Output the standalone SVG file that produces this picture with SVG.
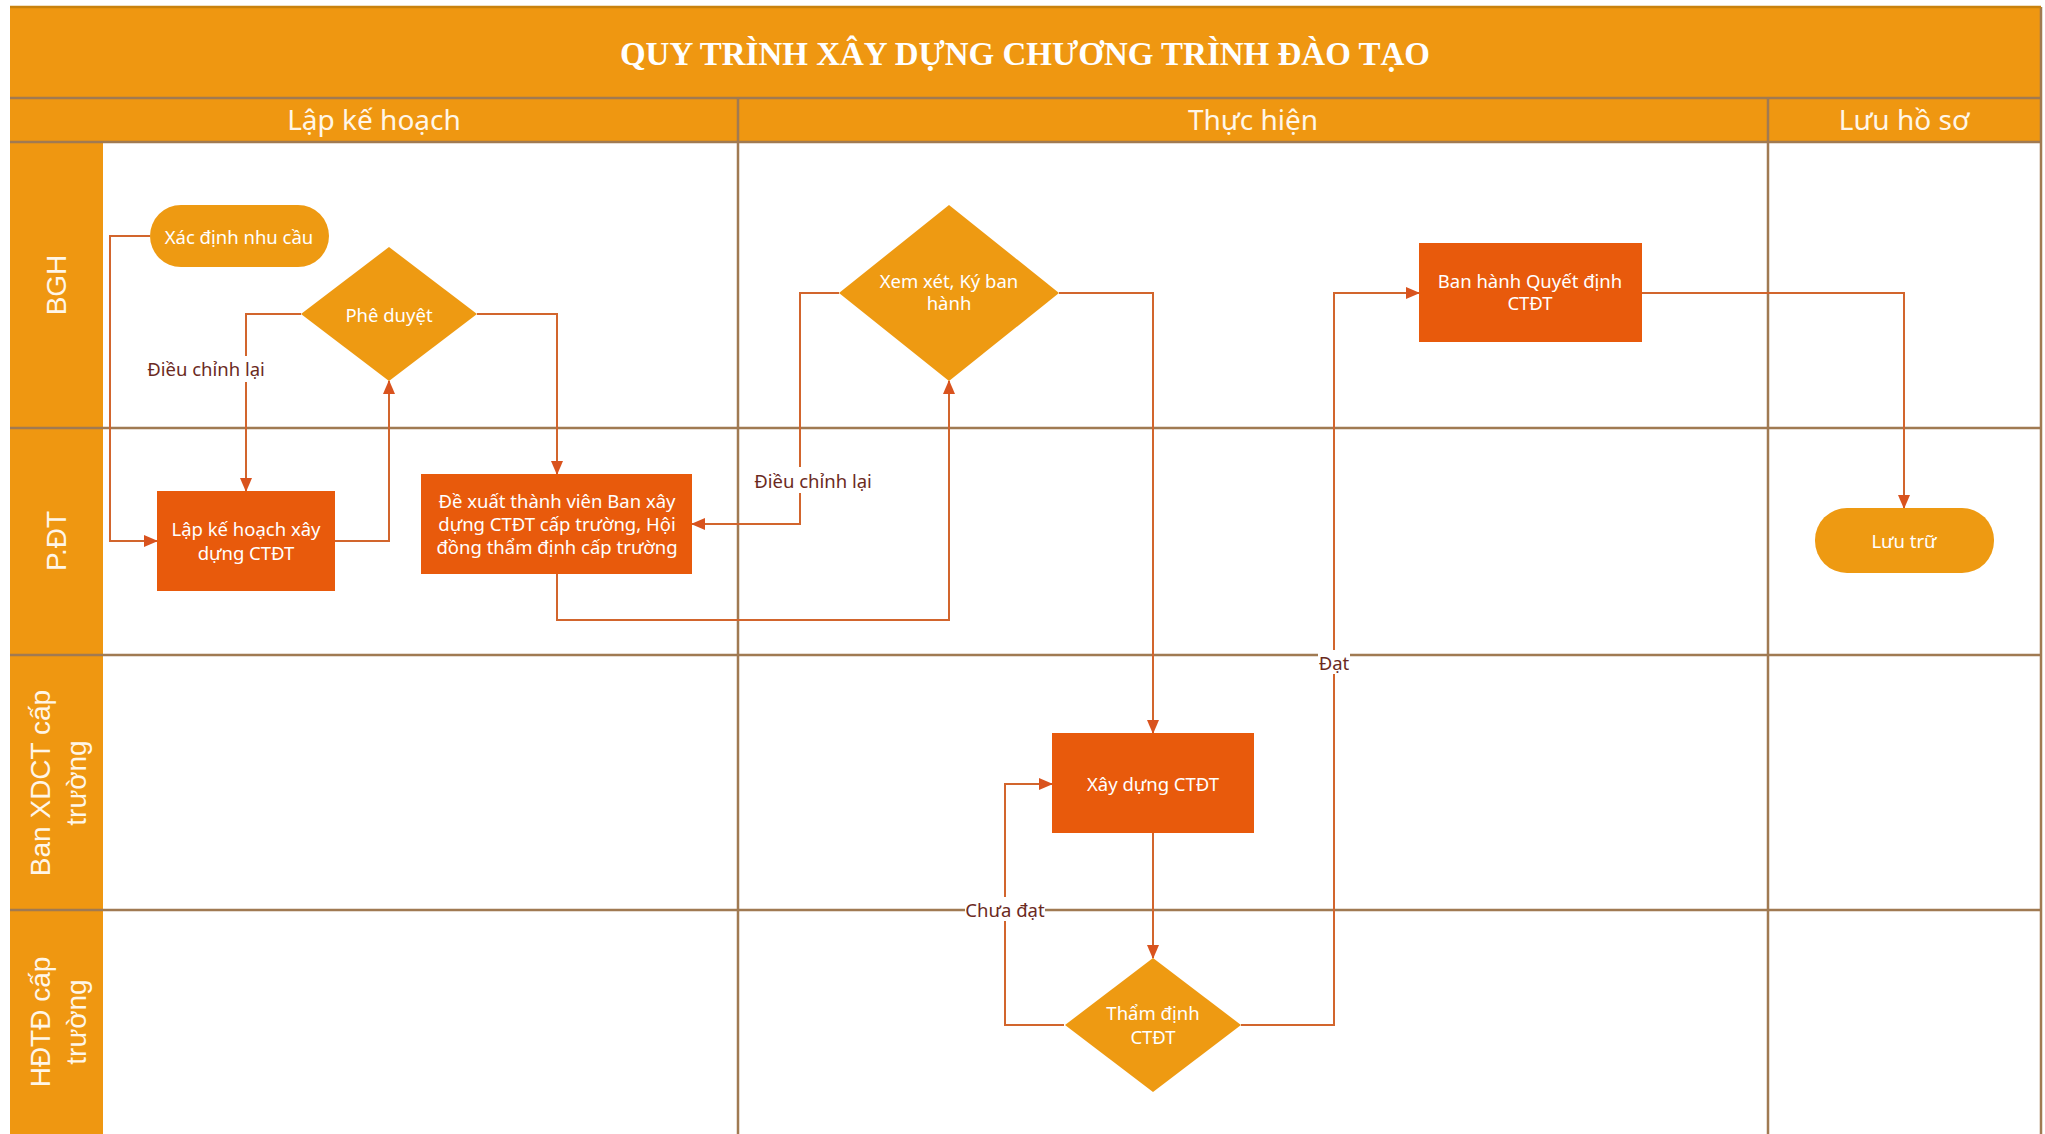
<svg xmlns="http://www.w3.org/2000/svg" width="2045" height="1134" viewBox="0 0 2045 1134">
<style>
.band{fill:#EF9711}
.grid{stroke:#A07A52;stroke-width:2.5;fill:none}
.title{font-family:"Liberation Serif",serif;font-weight:bold;font-size:33px;fill:#FFFFFF}
.phase{font-family:"Noto Sans","Open Sans",sans-serif;font-size:28px;fill:#FFF6E8}
.lane{font-family:"Liberation Sans",Arial,sans-serif;font-size:28px;fill:#FFF6E8}
.proc{fill:#E85A0C}
.dec{fill:#EE9A12}
.term{fill:#EE9A12}
.nt{font-family:"Noto Sans","Open Sans",sans-serif;font-size:18.5px;fill:#FFFFFF;text-anchor:middle;dominant-baseline:central}
.conn{stroke:#D2652D;stroke-width:2;fill:none}
.el{font-family:"Noto Sans","Open Sans",sans-serif;font-size:18.5px;fill:#6B2A1E;text-anchor:middle;dominant-baseline:central}
.lbg{fill:#FFFFFF}
</style>
<defs>
<marker id="arr" markerWidth="14" markerHeight="12" refX="13" refY="6" orient="auto" markerUnits="userSpaceOnUse">
<path d="M0,0 L14,6 L0,12 Z" fill="#D9531E"/>
</marker>
</defs>
<rect x="0" y="0" width="2045" height="1134" fill="#FFFFFF"/>
<g id="frame">
<rect class="band" x="10" y="7" width="2031" height="135"/>
<rect class="band" x="10" y="142" width="93" height="992"/>
<text class="title" x="1025" y="65" text-anchor="middle">QUY TRÌNH XÂY DỰNG CHƯƠNG TRÌNH ĐÀO TẠO</text>
<line class="grid" x1="10" y1="98" x2="2041" y2="98"/>
<line class="grid" x1="10" y1="142" x2="2041" y2="142"/>
<line class="grid" x1="10" y1="428" x2="2041" y2="428"/>
<line class="grid" x1="10" y1="655" x2="2041" y2="655"/>
<line class="grid" x1="10" y1="910" x2="2041" y2="910"/>
<line class="grid" x1="738" y1="98" x2="738" y2="1134"/>
<line class="grid" x1="1768" y1="98" x2="1768" y2="1134"/>
<line class="grid" x1="2041" y1="7" x2="2041" y2="1134"/>
<line class="grid" x1="10" y1="7" x2="2041" y2="7" style="stroke:#C9820E"/>
<text class="phase" x="374" y="119" text-anchor="middle" dominant-baseline="central">Lập kế hoạch</text>
<text class="phase" x="1253" y="119" text-anchor="middle" dominant-baseline="central">Thực hiện</text>
<text class="phase" x="1904" y="119" text-anchor="middle" dominant-baseline="central">Lưu hồ sơ</text>
<text class="lane" transform="translate(56,285) rotate(-90)" text-anchor="middle" dominant-baseline="central">BGH</text>
<text class="lane" transform="translate(56,541) rotate(-90)" text-anchor="middle" dominant-baseline="central">P.ĐT</text>
<text class="lane" transform="translate(40,783) rotate(-90)" text-anchor="middle" dominant-baseline="central">Ban XDCT cấp</text>
<text class="lane" transform="translate(76,783) rotate(-90)" text-anchor="middle" dominant-baseline="central">trường</text>
<text class="lane" transform="translate(40,1022) rotate(-90)" text-anchor="middle" dominant-baseline="central">HĐTĐ cấp</text>
<text class="lane" transform="translate(76,1022) rotate(-90)" text-anchor="middle" dominant-baseline="central">trường</text>
</g>
<g id="connectors">
<path class="conn" d="M150,236 H110 V541 H157" marker-end="url(#arr)"/>
<path class="conn" d="M335,541 H389 V381" marker-end="url(#arr)"/>
<path class="conn" d="M301,314 H246 V491" marker-end="url(#arr)"/>
<path class="conn" d="M477,314 H557 V474" marker-end="url(#arr)"/>
<path class="conn" d="M557,574 V620 H949 V381" marker-end="url(#arr)"/>
<path class="conn" d="M839,293 H800 V524 H692" marker-end="url(#arr)"/>
<path class="conn" d="M1059,293 H1153 V733" marker-end="url(#arr)"/>
<path class="conn" d="M1153,833 V958" marker-end="url(#arr)"/>
<path class="conn" d="M1064,1025 H1005 V784 H1052" marker-end="url(#arr)"/>
<path class="conn" d="M1241,1025 H1334 V293 H1419" marker-end="url(#arr)"/>
<path class="conn" d="M1642,293 H1904 V508" marker-end="url(#arr)"/>
<rect class="lbg" x="145" y="356" width="122" height="26"/>
<text class="el" x="206" y="368">Điều chỉnh lại</text>
<rect class="lbg" x="752" y="467" width="122" height="26"/>
<text class="el" x="813" y="480">Điều chỉnh lại</text>
<rect class="lbg" x="965" y="897" width="80" height="24"/>
<text class="el" x="1005" y="909">Chưa đạt</text>
<rect class="lbg" x="1318" y="650" width="32" height="24"/>
<text class="el" x="1334" y="662">Đạt</text>
</g>
<g id="n-xacdinh">
<rect class="term" x="150" y="205" width="179" height="62" rx="31"/>
<text class="nt" x="239" y="236">Xác định nhu cầu</text>
</g>
<g id="n-pheduyet">
<polygon class="dec" points="389,247 477,314 389,381 301,314"/>
<text class="nt" x="389" y="314">Phê duyệt</text>
</g>
<g id="n-lapkehoach">
<rect class="proc" x="157" y="491" width="178" height="100"/>
<text class="nt" x="246" y="528">Lập kế hoạch xây</text>
<text class="nt" x="246" y="552">dựng CTĐT</text>
</g>
<g id="n-dexuat">
<rect class="proc" x="421" y="474" width="271" height="100"/>
<text class="nt" x="557" y="500">Đề xuất thành viên Ban xây</text>
<text class="nt" x="557" y="523">dựng CTĐT cấp trường, Hội</text>
<text class="nt" x="557" y="546">đồng thẩm định cấp trường</text>
</g>
<g id="n-xemxet">
<polygon class="dec" points="949,205 1059,293 949,381 839,293"/>
<text class="nt" x="949" y="280">Xem xét, Ký ban</text>
<text class="nt" x="949" y="302">hành</text>
</g>
<g id="n-banhanh">
<rect class="proc" x="1419" y="243" width="223" height="99"/>
<text class="nt" x="1530" y="280">Ban hành Quyết định</text>
<text class="nt" x="1530" y="302">CTĐT</text>
</g>
<g id="n-luutru">
<rect class="term" x="1815" y="508" width="179" height="65" rx="32"/>
<text class="nt" x="1904" y="540">Lưu trữ</text>
</g>
<g id="n-xaydung">
<rect class="proc" x="1052" y="733" width="202" height="100"/>
<text class="nt" x="1153" y="783">Xây dựng CTĐT</text>
</g>
<g id="n-thamdinh">
<polygon class="dec" points="1153,958 1241,1025 1153,1092 1065,1025"/>
<text class="nt" x="1153" y="1012">Thẩm định</text>
<text class="nt" x="1153" y="1036">CTĐT</text>
</g>
</svg>
